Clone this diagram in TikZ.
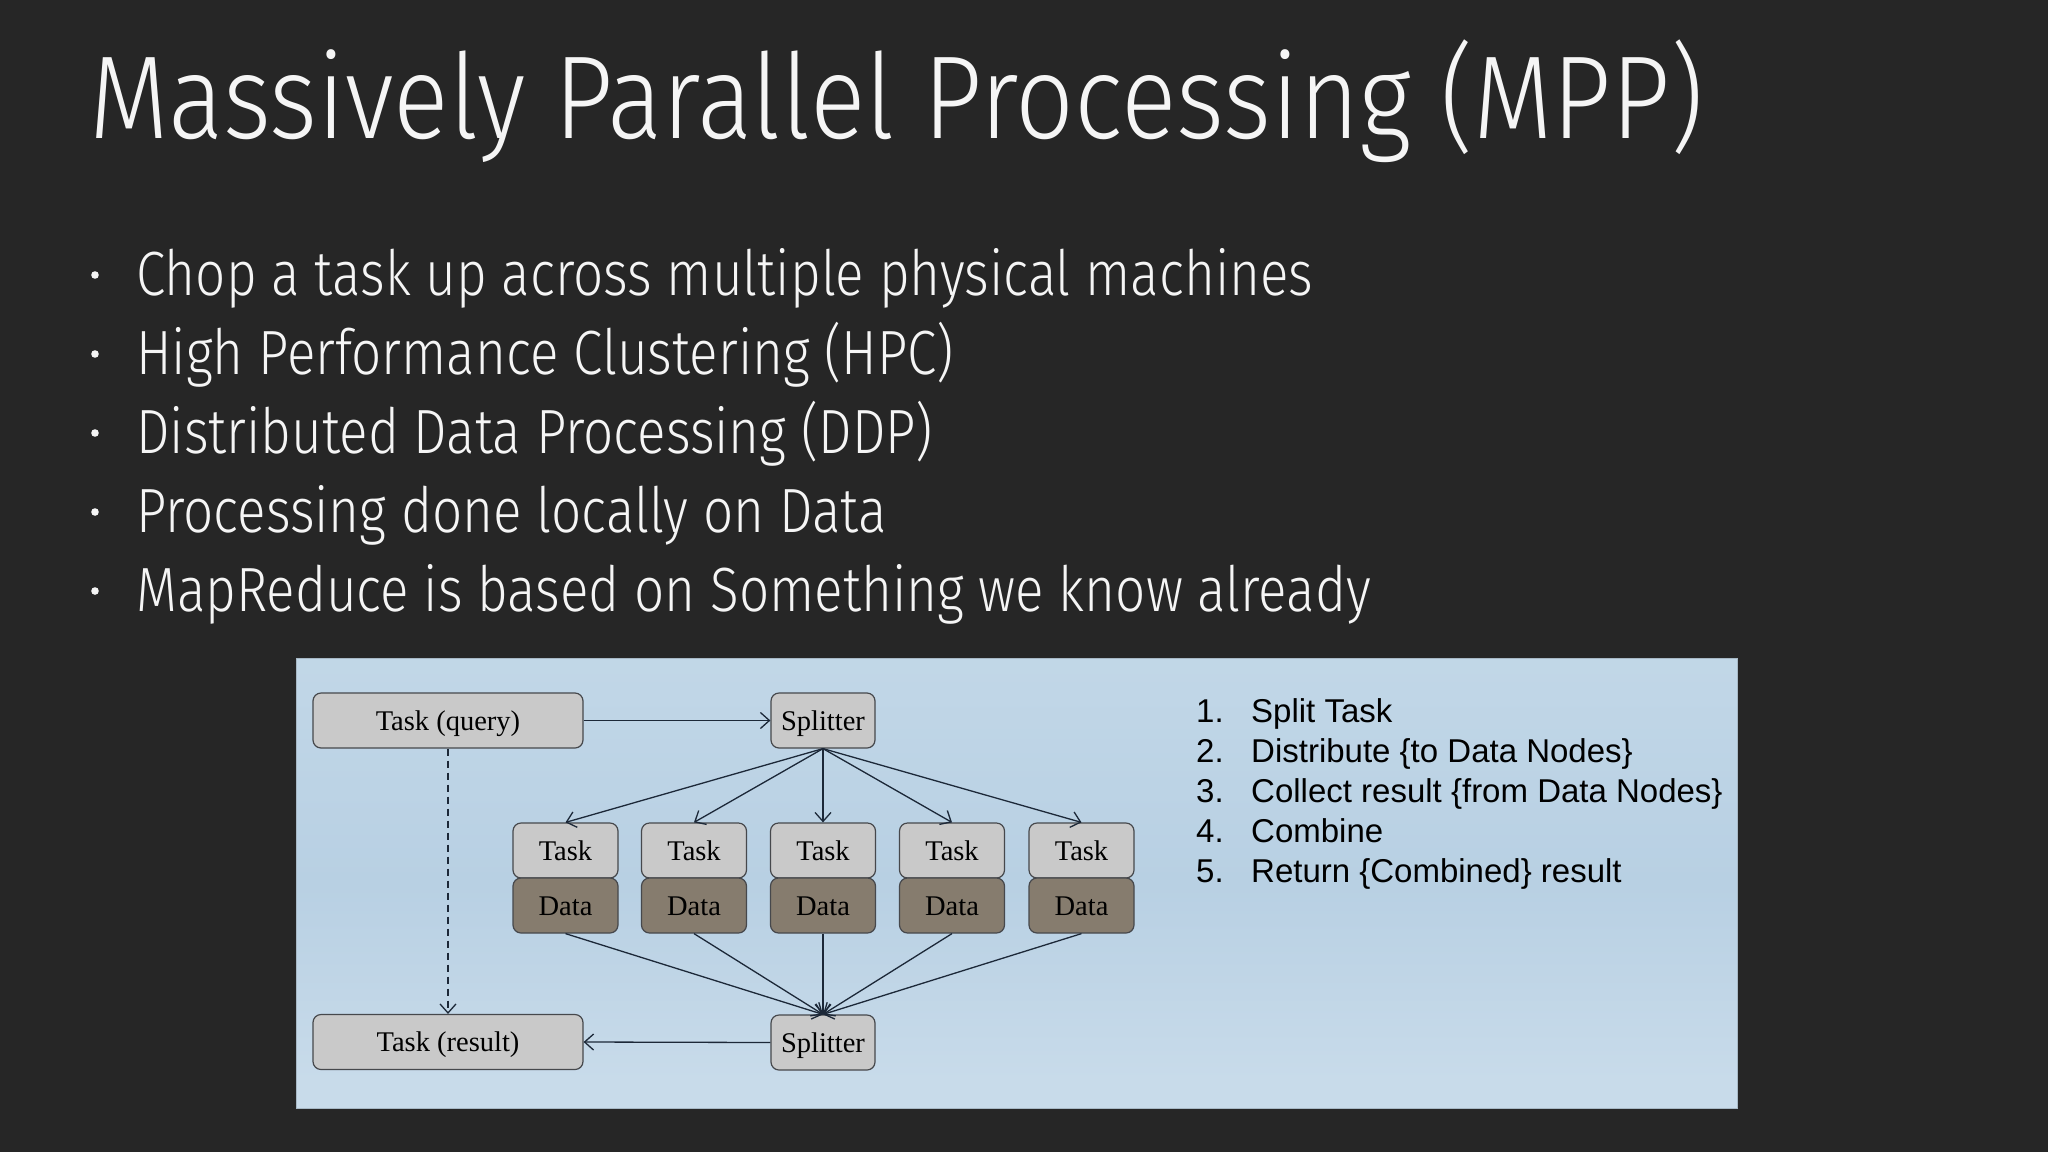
\documentclass[tikz,border=0pt]{standalone}
\usepackage{fontspec}
\usetikzlibrary{arrows.meta}
\IfFontExistsTF{Fira Sans Light}{\newfontfamily\slidefont{Fira Sans Light}}{\newfontfamily\slidefont{Fira Sans}}
\newfontfamily\diagfont{Liberation Serif}
\newfontfamily\listfont{Liberation Sans}
\definecolor{slidebg}{RGB}{38,38,38}
\definecolor{slidetext}{RGB}{245,245,245}
\definecolor{paneltop}{RGB}{203,222,236}
\definecolor{panelmid}{RGB}{184,208,227}
\definecolor{panellight}{RGB}{200,219,234}
\definecolor{panelbot}{RGB}{188,211,230}
\definecolor{taskfill}{RGB}{201,201,201}
\definecolor{datafill}{RGB}{134,124,110}
\definecolor{boxline}{RGB}{70,72,76}
\definecolor{arrowcol}{RGB}{28,40,56}
\pgfdeclareverticalshading{panelshade}{100bp}{color(0bp)=(panelbot); color(18bp)=(panellight); color(28bp)=(panellight); color(50bp)=(panelmid); color(100bp)=(paneltop)}
\newcommand{\titlefit}[1]{\scalebox{0.875}[1]{#1}}
\newcommand{\bulletfit}[1]{\scalebox{0.848}[1]{#1}}
\begin{document}
\begin{tikzpicture}[x=1pt,y=-1pt,
  titletext/.style={anchor=base west, inner sep=0pt, text=slidetext, font=\slidefont\fontsize{118}{120}\selectfont},
  bullettext/.style={anchor=base west, inner sep=0pt, text=slidetext, font=\slidefont\fontsize{62.5}{70}\selectfont},
  listtext/.style={anchor=base west, inner sep=0pt, text=black, font=\listfont\fontsize{33}{38}\selectfont},
  boxbase/.style={draw=boxline, line width=1.2pt, rounded corners=8pt, inner sep=0pt, minimum height=55pt, text height=19pt, text depth=0pt, text=black, font=\diagfont\fontsize{28.5}{33}\selectfont},
  taskbox/.style={boxbase, fill=taskfill},
  databox/.style={boxbase, fill=datafill},
  conn/.style={draw=arrowcol, line width=1.3pt, -{Straight Barb[length=9pt,width=16pt,line width=1.3pt]}},
  dashconn/.style={conn, dash pattern=on 7pt off 5pt}
]
\useasboundingbox (0,0) rectangle (2048,1152);
\fill[slidebg] (0,0) rectangle (2048,1152);

% title and bullets
\node[titletext] (title) at (89,138) {\titlefit{Massively Parallel Processing (MPP)}};
\node[bullettext] (b1) at (136,295) {\bulletfit{Chop a task up across multiple physical machines}};
\node[bullettext] (b2) at (136,374) {\bulletfit{High Performance Clustering (HPC)}};
\node[bullettext] (b3) at (136,453) {\bulletfit{Distributed Data Processing (DDP)}};
\node[bullettext] (b4) at (136,532) {\bulletfit{Processing done locally on Data}};
\node[bullettext] (b5) at (136,611) {\bulletfit{MapReduce is based on Something we know already}};
\foreach \yy in {295,374,453,532,611} \fill[slidetext] (95,\yy-20) circle (3.8);

% diagram panel
\shade[shading=panelshade] (296,658) rectangle (1737,1108);
\draw[color=panelmid!70!gray, line width=0.8pt] (296,658) rectangle (1737,1108);

\node[taskbox, minimum width=270pt] (query) at (448,720.5) {Task (query)};
\node[taskbox, minimum width=104pt] (split1) at (823,720.5) {Splitter};
\node[taskbox, minimum width=104pt] (split2) at (823,1042.5) {Splitter};
\node[taskbox, minimum width=270pt] (result) at (448,1042) {Task (result)};
\foreach \i/\xx in {1/565.5,2/694,3/823,4/952,5/1081.5} {
  \node[taskbox, minimum width=105pt] (t\i) at (\xx,850.5) {Task};
  \node[databox, minimum width=105pt] (d\i) at (\xx,905.5) {Data};
}
\draw[conn] (query.east) -- (split1.west);
\draw[conn] (split2.west) -- (result.east);
\draw[dashconn] (query.south) -- (result.north);
\foreach \i in {1,...,5} {
  \draw[conn] (split1.south) -- (t\i.north);
  \draw[conn] (d\i.south) -- (split2.north);
}

% numbered list
\node[listtext] (n1) at (1196,722) {1.};
\node[listtext] (l1) at (1251,722) {Split Task};
\node[listtext] (n2) at (1196,762) {2.};
\node[listtext] (l2) at (1251,762) {Distribute \{to Data Nodes\}};
\node[listtext] (n3) at (1196,802) {3.};
\node[listtext] (l3) at (1251,802) {Collect result \{from Data Nodes\}};
\node[listtext] (n4) at (1196,842) {4.};
\node[listtext] (l4) at (1251,842) {Combine};
\node[listtext] (n5) at (1196,882) {5.};
\node[listtext] (l5) at (1251,882) {Return \{Combined\} result};
\end{tikzpicture}
\end{document}
